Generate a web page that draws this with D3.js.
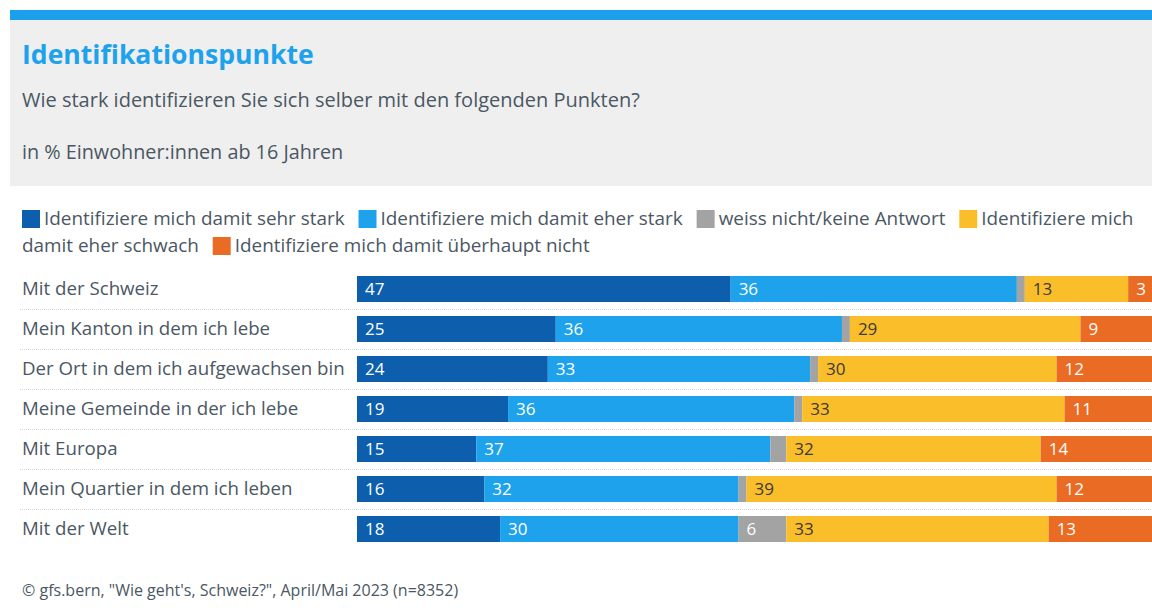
<!DOCTYPE html>
<html>
<head>
  <meta charset="UTF-8">
  <title>Identifikationspunkte</title>
  <script src="https://d3js.org/d3.v7.min.js"></script>
  <style>
    body {
      margin: 0;
      background: #fff;
      font-family: "Open Sans", "Noto Sans", sans-serif;
    }
    .txt {
      fill: #4b5763;
    }
    .sep {
      stroke: #d4d4d4;
      stroke-width: 1;
      stroke-dasharray: 1 1;
    }
  </style>
</head>
<body>
  <div id="chart"></div>
  <script>
    const categories = [
      "Mit der Schweiz",
      "Mein Kanton in dem ich lebe",
      "Der Ort in dem ich aufgewachsen bin",
      "Meine Gemeinde in der ich lebe",
      "Mit Europa",
      "Mein Quartier in dem ich leben",
      "Mit der Welt"
    ];
    const seriesNames = [
      "Identifiziere mich damit sehr stark",
      "Identifiziere mich damit eher stark",
      "weiss nicht/keine Antwort",
      "Identifiziere mich damit eher schwach",
      "Identifiziere mich damit überhaupt nicht"
    ];
    const sehrStark = [47, 25, 24, 19, 15, 16, 18];
    const eherStark = [36, 36, 33, 36, 37, 32, 30];
    const weissNicht = [1, 1, 1, 1, 2, 1, 6];
    const eherSchwach = [13, 29, 30, 33, 32, 39, 33];
    const ueberhauptNicht = [3, 9, 12, 11, 14, 12, 13];
    const colors = ["#0d5fad", "#1ea2ec", "#a3a3a3", "#fbbe2b", "#ea6b24"];
    const labelColors = ["#fff", "#fff", "#fff", "#3a3a3a", "#fff"];

    const title = "Identifikationspunkte";
    const subtitle = "Wie stark identifizieren Sie sich selber mit den folgenden Punkten?";
    const unit = "in % Einwohner:innen ab 16 Jahren";
    const source = "\u00a9 gfs.bern, \"Wie geht's, Schweiz?\", April/Mai 2023 (n=8352)";

    const W = 1152, H = 612;
    const keys = ["s0", "s1", "s2", "s3", "s4"];
    const allSeries = [sehrStark, eherStark, weissNicht, eherSchwach, ueberhauptNicht];
    const table = categories.map((c, i) => {
      const row = { cat: c };
      keys.forEach((k, j) => row[k] = allSeries[j][i]);
      return row;
    });

    const svg = d3.select("#chart").append("svg")
      .attr("width", W)
      .attr("height", H);

    // header box
    svg.append("rect").attr("x", 10).attr("y", 20).attr("width", W - 10).attr("height", 166)
      .attr("fill", "#efefef");
    svg.append("rect").attr("x", 10).attr("y", 10).attr("width", W - 10).attr("height", 10)
      .attr("fill", "#1ca0eb");
    svg.append("text").attr("x", 22).attr("y", 64)
      .attr("font-size", 26.6).attr("font-weight", 700).attr("fill", "#1ea2ec")
      .text(title);
    svg.append("text").attr("class", "txt").attr("x", 22).attr("y", 107)
      .attr("font-size", 20).text(subtitle);
    svg.append("text").attr("class", "txt").attr("x", 22).attr("y", 159)
      .attr("font-size", 19.8).text(unit);

    // legend, flowed word by word
    const legend = svg.append("g").attr("font-size", 18.9);
    const measure = legend.append("text").attr("class", "txt").style("visibility", "hidden");
    const textW = s => { measure.text(s); return measure.node().getComputedTextLength(); };
    const lx0 = 22, lmax = 1145, lineH = 27;
    let lx = lx0, ly = 225;
    const spaceW = textW("a a") - textW("aa");
    seriesNames.forEach((name, i) => {
      if (lx + 20 > lmax) { lx = lx0; ly += lineH; }
      legend.append("rect").attr("x", lx).attr("y", ly - 15).attr("width", 18).attr("height", 18)
        .attr("fill", colors[i]);
      lx += 22;
      name.split(" ").forEach((w, k) => {
        const ww = textW(w);
        if (lx + ww > lmax) { lx = lx0; ly += lineH; }
        legend.append("text").attr("class", "txt").attr("x", lx).attr("y", ly).text(w);
        lx += ww + spaceW;
      });
      lx += 9;
    });
    measure.remove();

    // bars
    const x = d3.scaleLinear().domain([0, 100]).range([357, W]);
    const y = d3.scaleBand().domain(categories).range([269, 549]).paddingInner(0.35).paddingOuter(0.175);
    const stack = d3.stack().keys(keys)(table);

    svg.append("g").selectAll("line")
      .data(categories.slice(1))
      .join("line")
      .attr("class", "sep")
      .attr("x1", 20).attr("x2", W)
      .attr("y1", d => Math.round(y(d) - y.step() * y.paddingInner() / 2) + 0.5)
      .attr("y2", d => Math.round(y(d) - y.step() * y.paddingInner() / 2) + 0.5);

    svg.append("g").selectAll("text")
      .data(categories)
      .join("text")
      .attr("class", "txt")
      .attr("x", 22)
      .attr("y", d => y(d) + y.bandwidth() / 2 + 6)
      .attr("font-size", 18.7)
      .text(d => d);

    const layers = svg.append("g").selectAll("g")
      .data(stack)
      .join("g")
      .attr("fill", (d, i) => colors[i]);

    layers.selectAll("rect")
      .data(d => d)
      .join("rect")
      .attr("x", d => x(d[0]))
      .attr("y", d => y(d.data.cat))
      .attr("width", d => x(d[1]) - x(d[0]))
      .attr("height", y.bandwidth());

    layers.selectAll("text")
      .data((d, i) => d.map(v => ({ v, i })))
      .join("text")
      .filter(d => d.v[1] - d.v[0] >= 3)
      .attr("x", d => x(d.v[0]) + 8)
      .attr("y", d => y(d.v.data.cat) + y.bandwidth() / 2 + 6)
      .attr("font-size", 17)
      .attr("fill", d => labelColors[d.i])
      .text(d => d.v[1] - d.v[0]);

    svg.append("text").attr("class", "txt").attr("x", 22).attr("y", 596)
      .attr("font-size", 16).text(source);
  </script>
</body>
</html>
